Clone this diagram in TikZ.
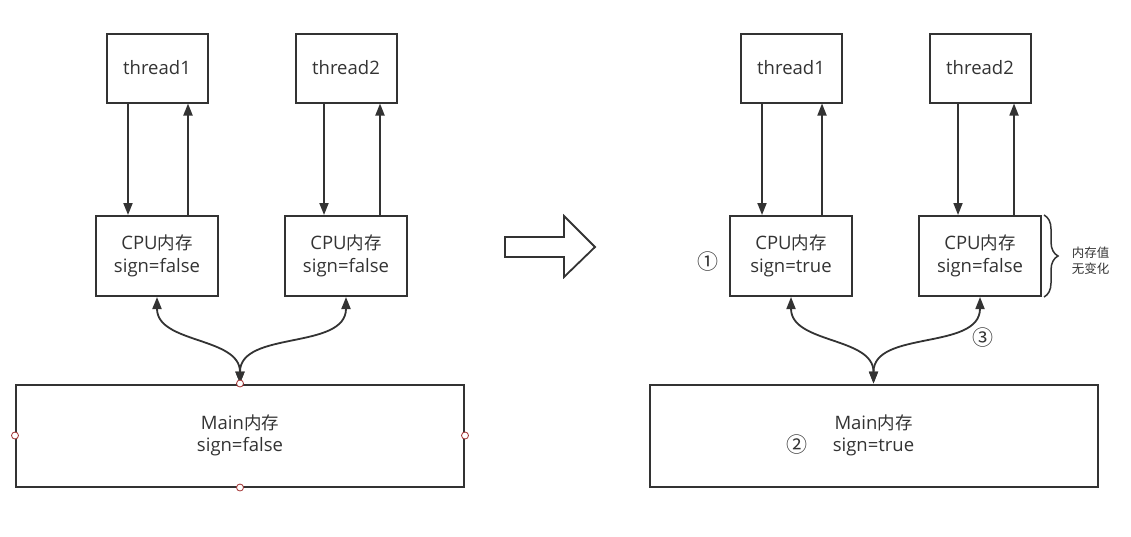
\documentclass[tikz,border=0pt]{standalone}
\usepackage{fontspec}
\setmainfont{Open Sans}
\newfontfamily\cjk{Noto Sans CJK SC}
\usetikzlibrary{arrows.meta,decorations.pathreplacing}
\definecolor{linegray}{HTML}{333333}
\definecolor{handlered}{HTML}{A33333}
\newcommand{\zh}[1]{{\cjk\fontsize{17.5}{22}\selectfont #1}}
\tikzset{
    box/.style={draw=linegray, line width=2pt, inner sep=0pt, align=center,
                text=linegray, font=\fontsize{18.5}{22.5}\selectfont},
    threadbox/.style={box, minimum width=101pt, minimum height=69pt},
    cpubox/.style={box, minimum width=122pt, minimum height=80pt},
    mainbox/.style={box, minimum width=448pt, minimum height=102pt},
    link/.style={draw=linegray, line width=1.8pt, -{Triangle[length=12pt,width=9pt]}},
    sync/.style={link, {Triangle[length=12pt,width=9pt]}-{Triangle[length=12pt,width=9pt]}},
    handle/.style={circle, draw=handlered, fill=white, line width=0.8pt,
                   minimum size=7pt, inner sep=0pt},
    num/.style={text=linegray, inner sep=0pt, font=\cjk\fontsize{21}{21}\selectfont},
    note/.style={text=linegray, inner sep=0pt, align=center,
                 font=\cjk\fontsize{12.5}{16}\selectfont},
}
\begin{document}
\begin{tikzpicture}[x=1pt,y=1pt]
        \useasboundingbox (0,0) rectangle (1131,-536);

        % before
        \node[threadbox] (t1) at (157,-68) {thread1};
        \node[threadbox] (t2) at (346,-68) {thread2};
        \node[cpubox] (c1) at (157,-256) {CPU\zh{内存}\\sign=false};
        \node[cpubox] (c2) at (346,-256) {CPU\zh{内存}\\sign=false};
        \node[mainbox] (m1) at (240,-435.5) {Main\zh{内存}\\sign=false};

        \draw[link] ([xshift=-29pt]t1.south) -- ([xshift=-29pt]c1.north);
        \draw[link] ([xshift=31pt]c1.north) -- ([xshift=31pt]t1.south);
        \draw[link] ([xshift=-22pt]t2.south) -- ([xshift=-22pt]c2.north);
        \draw[link] ([xshift=34pt]c2.north) -- ([xshift=34pt]t2.south);
        \draw[sync] (c1.south) to[out=-90,in=90] (m1.north);
        \draw[sync] (c2.south) to[out=-90,in=90] (m1.north);

        \foreach \a in {north,south,east,west}
        {
            \node[handle] (h\a) at (m1.\a) {};
        }

        % block arrow
        \draw[linegray, line width=1.8pt] (505,-237) -- (564,-237) -- (564,-216)
            -- (595,-247) -- (564,-277) -- (564,-257) -- (505,-257) -- cycle;

        % after
        \node[threadbox] (t3) at (791,-68) {thread1};
        \node[threadbox] (t4) at (980,-68) {thread2};
        \node[cpubox] (c3) at (791,-256) {CPU\zh{内存}\\sign=true};
        \node[cpubox] (c4) at (980,-256) {CPU\zh{内存}\\sign=false};
        \node[mainbox] (m2) at (873.5,-435.5) {Main\zh{内存}\\sign=true};

        \draw[link] ([xshift=-29pt]t3.south) -- ([xshift=-29pt]c3.north);
        \draw[link] ([xshift=31pt]c3.north) -- ([xshift=31pt]t3.south);
        \draw[link] ([xshift=-22pt]t4.south) -- ([xshift=-22pt]c4.north);
        \draw[link] ([xshift=34pt]c4.north) -- ([xshift=34pt]t4.south);
        \draw[sync] (c3.south) to[out=-90,in=90] (m2.north);
        \draw[sync] (c4.south) to[out=-90,in=90] (m2.north);

        \node[num] (n1) at (708,-262) {①};
        \node[num] (n2) at (797,-445) {②};
        \node[num] (n3) at (983,-338) {③};

        \draw[linegray, line width=1.5pt, decorate, decoration={brace, amplitude=14pt}]
            ([xshift=2pt]c4.north east) -- ([xshift=2pt]c4.south east);
        \node[note] (nc) at (1090.5,-260.5) {内存值\\无变化};
\end{tikzpicture}
\end{document}
